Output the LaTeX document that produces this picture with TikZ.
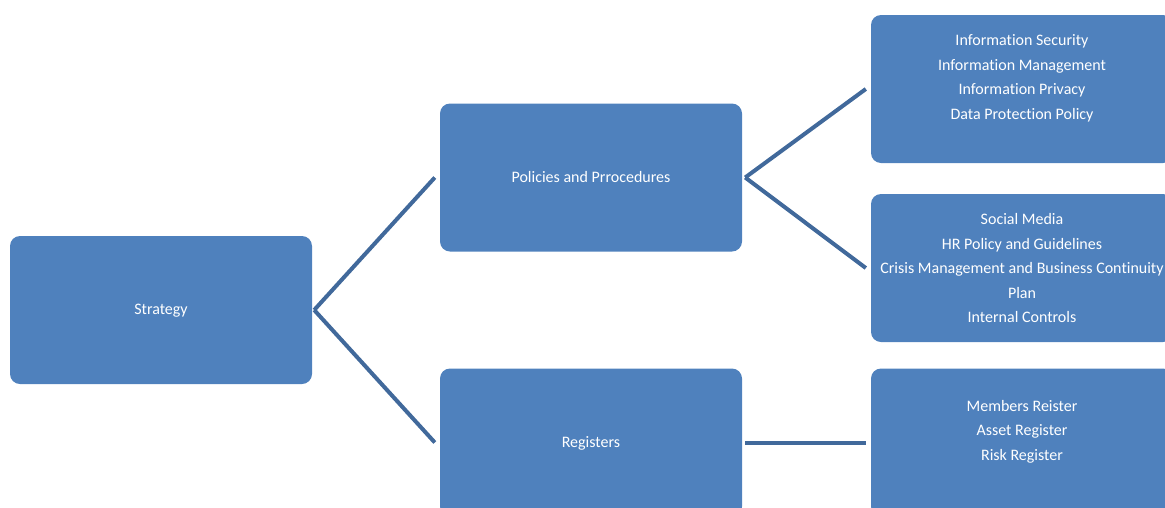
\documentclass[tikz,border=0pt]{standalone}
\usepackage{fontspec}
\setmainfont[Ligatures=NoCommon]{Carlito}
\usetikzlibrary{calc}
\definecolor{boxblue}{HTML}{4F81BD}
\definecolor{linkblue}{HTML}{41699B}
\begin{document}
\begin{tikzpicture}[x=1pt,y=-1pt,
  card/.style={draw=none,fill=boxblue,rounded corners=10pt,minimum width=302pt,
    minimum height=148pt,inner sep=0pt},
  cardtext/.style={text=white,align=center,inner sep=0pt,
    font=\fontsize{16}{24.5}\selectfont,
    execute at begin node=\strut,execute at end node=\strut},
  listtext/.style={cardtext,yshift=-4pt},
  toptext/.style={cardtext,yshift=8.5pt},
  link/.style={draw=linkblue,line width=4pt}]
\useasboundingbox (0,0) rectangle (1165,507);
\clip (0,0) rectangle (1165,507);
% boxes
\node[card,label={[cardtext]center:Strategy}] (strat) at (161,310) {};
\node[card,label={[cardtext]center:Policies and Prrocedures}] (pol) at (591,177.5) {};
\node[card,label={[cardtext]center:Registers}] (reg) at (591,442.5) {};
\node[card,label={[toptext]center:{Information Security\\Information Management\\Information Privacy\\Data Protection Policy}}] (ca) at (1022,89) {};
\node[card,label={[listtext]center:{Social Media\\HR Policy and Guidelines\\Crisis Management and Business Continuity\\Plan\\Internal Controls}}] (cb) at (1022,268) {};
\node[card,label={[toptext]center:{Members Reister\\Asset Register\\Risk Register}}] (cc) at (1022,442.5) {};
% connectors
\draw[link] ($(strat.east)+(2,0)$) -- ($(pol.west)+(-5,0)$);
\draw[link] ($(strat.east)+(2,0)$) -- ($(reg.west)+(-5,0)$);
\draw[link] ($(pol.east)+(3,0)$) -- ($(ca.west)+(-5,0)$);
\draw[link] ($(pol.east)+(3,0)$) -- ($(cb.west)+(-5,0)$);
\draw[link] ($(reg.east)+(3,0)$) -- ($(cc.west)+(-5,0)$);
\end{tikzpicture}
\end{document}
